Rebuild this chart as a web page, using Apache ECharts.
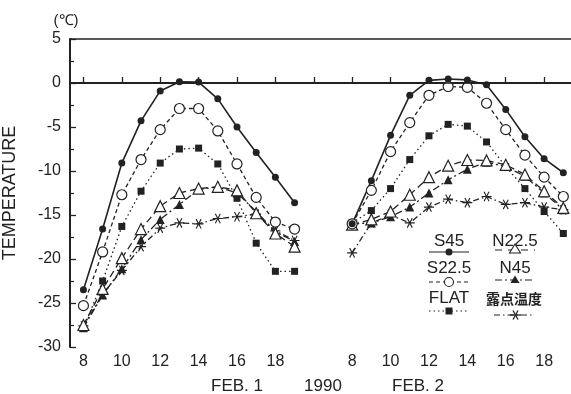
<!DOCTYPE html>
<html>
<head>
<meta charset="utf-8">
<script src="https://cdn.jsdelivr.net/npm/echarts@6.0.0/dist/echarts.min.js"></script>
<style>
  html, body { margin: 0; padding: 0; background: #fff; }
  #chart { width: 571px; height: 394px; }
</style>
</head>
<body>
<div id="chart"></div>
<script>
// hours of each day, day 2 is drawn shifted right by dayOffset
const hours = [8, 9, 10, 11, 12, 13, 14, 15, 16, 17, 18, 19];
const dayOffset = 14;
const hourTicks = [8, 10, 12, 14, 16, 18];
const yTicks = [-30, -25, -20, -15, -10, -5, 0, 5];

const s45Day1 = [-23.5, -16.6, -9.1, -4.3, -0.9, 0.15, 0.1, -1.8, -5.0, -7.9, -10.7, -13.6];
const s45Day2 = [-16.0, -11.1, -5.95, -1.4, 0.3, 0.45, 0.35, -0.2, -3.0, -6.1, -8.6, -10.2];
const s225Day1 = [-25.3, -19.2, -12.7, -8.7, -5.3, -2.9, -2.9, -5.45, -9.2, -13.0, -15.8, -16.6];
const s225Day2 = [-16.0, -12.2, -7.8, -4.5, -1.4, -0.4, -0.5, -2.3, -5.3, -8.2, -10.7, -12.9];
const flatDay1 = [-27.9, -22.5, -16.3, -12.3, -9.1, -7.5, -7.4, -9.2, -13.1, -18.2, -21.4, -21.4];
const flatDay2 = [-15.9, -14.5, -12.0, -8.7, -6.0, -4.7, -4.9, -6.7, -9.5, -12.0, -14.6, -17.1];
const n225Day1 = [-27.5, -23.4, -19.9, -16.6, -14.0, -12.5, -12.0, -11.8, -12.2, -14.8, -17.1, -18.6];
const n225Day2 = [-16.1, -15.5, -14.6, -12.7, -10.7, -9.4, -8.75, -8.8, -9.3, -10.4, -12.3, -14.2];
const n45Day1 = [-27.8, -24.1, -21.1, -17.8, -15.5, -13.8, -12.1, -11.8, -12.5, -14.6, -16.9, -18.0];
const n45Day2 = [-16.0, -15.9, -15.2, -14.1, -12.5, -11.0, -9.8, -9.0, -9.5, -10.6, -12.5, -14.4];
const dewDay1 = [-27.6, -24.0, -21.3, -18.6, -16.5, -15.9, -16.0, -15.4, -15.2, -14.9, -16.8, -17.9];
const dewDay2 = [-19.3, -15.9, -15.0, -15.9, -14.1, -13.2, -13.6, -12.9, -13.8, -13.6, -14.1, -14.4];

const ink = '#222';
const font = '"Liberation Sans", Arial, sans-serif';
const asterisk = 'path://M1,9L19,9L19,11L1,11ZM6.37,1.71L15.37,17.29L13.63,18.29L4.63,2.71ZM15.37,2.71L6.37,18.29L4.63,17.29L13.63,1.71Z';

// join both days into one line, broken in between
function pairs(day1, day2) {
  const out = hours.map((h, i) => [h, day1[i]]);
  out.push([20, '-']);
  hours.forEach((h, i) => out.push([h + dayOffset, day2[i]]));
  return out;
}

const tickValues = hourTicks.concat([20], hourTicks.map(h => h + dayOffset));
const labelValues = hourTicks.concat(hourTicks.map(h => h + dayOffset));

function line(name, day1, day2, symbol, size, filled, dash, width) {
  return {
    name: name,
    type: 'line',
    data: pairs(day1, day2),
    symbol: symbol,
    symbolSize: size,
    showAllSymbol: true,
    itemStyle: filled
      ? { color: ink }
      : { color: '#fff', borderColor: ink, borderWidth: 1.2 },
    lineStyle: { color: ink, width: width || 1.3, type: dash },
    emphasis: { disabled: true },
  };
}

// legend: text with a sample of line + symbol under it
function legendItem(label, x, y, lineY, dash, symbolEl, fontStr) {
  return [
    {
      type: 'text', x: x, y: y,
      style: { text: label, fill: ink, font: fontStr || ('17px ' + font), textAlign: 'center', textVerticalAlign: 'middle' },
    },
    {
      type: 'line',
      shape: { x1: x - 20, y1: lineY, x2: x + 20, y2: lineY },
      style: { stroke: ink, lineWidth: 1.2, lineDash: dash },
    },
    symbolEl,
  ];
}

const legendEls = [].concat(
  legendItem('S45', 449, 241, 252, null,
    { type: 'circle', shape: { cx: 449, cy: 252, r: 3.5 }, style: { fill: ink } }),
  legendItem('N22.5', 515, 241, 250, [7, 6],
    { type: 'polygon', shape: { points: [[515, 244], [520.5, 253], [509.5, 253]] }, style: { fill: '#fff', stroke: ink, lineWidth: 1.1 } }),
  legendItem('S22.5', 449, 268, 282, [4, 3],
    { type: 'circle', shape: { cx: 449, cy: 282, r: 4.5 }, style: { fill: '#fff', stroke: ink, lineWidth: 1.1 } }),
  legendItem('N45', 515, 268, 280, [7, 3, 2, 3],
    { type: 'polygon', shape: { points: [[515, 275.5], [519.5, 283], [510.5, 283]] }, style: { fill: ink } }),
  legendItem('FLAT', 449, 298, 311, [1.5, 3],
    { type: 'rect', shape: { x: 445.5, y: 307.5, width: 7, height: 7 }, style: { fill: ink } }),
  legendItem('露点温度', 514, 299, 315, [6, 3, 1.5, 3],
    { type: 'group', children: [
      { type: 'line', shape: { x1: 510, y1: 315, x2: 521, y2: 315 }, style: { stroke: ink, lineWidth: 1.3 } },
      { type: 'line', shape: { x1: 513, y1: 310.5, x2: 518, y2: 319.5 }, style: { stroke: ink, lineWidth: 1.3 } },
      { type: 'line', shape: { x1: 518, y1: 310.5, x2: 513, y2: 319.5 }, style: { stroke: ink, lineWidth: 1.3 } },
    ] }, 'bold 14px "Noto Sans CJK JP", sans-serif')
);

const chart = echarts.init(document.getElementById('chart'), null, { renderer: 'canvas' });

const s45 = line('S45', s45Day1, s45Day2, 'circle', 7, true, 'solid', 1.6);
s45.markLine = {
  silent: true,
  symbol: 'none',
  label: { show: false },
  lineStyle: { color: ink, width: 1.5, type: 'solid' },
  data: [{ yAxis: 0 }],
};

chart.setOption({
  animation: false,
  backgroundColor: '#fff',
  textStyle: { fontFamily: font },
  grid: { left: 70, right: 0, top: 39, bottom: 47, outerBoundsMode: 'none', containLabel: false },
  xAxis: [
    {
      type: 'value',
      min: 7.3,
      max: 33.4,
      position: 'bottom',
      axisLine: { lineStyle: { color: ink, width: 2 } },
      axisTick: { inside: true, length: 6, customValues: tickValues, lineStyle: { color: ink, width: 1.3 } },
      axisLabel: {
        customValues: labelValues,
        formatter: v => String(v > 20 ? v - dayOffset : v),
        color: ink, fontSize: 16, margin: 7, fontFamily: font,
      },
      splitLine: { show: false },
    },
    {
      type: 'value',
      min: 7.3,
      max: 33.4,
      position: 'top',
      axisLine: { show: true, onZero: false, lineStyle: { color: ink, width: 1.6 } },
      axisTick: { show: false },
      axisLabel: { show: false },
      splitLine: { show: false },
    },
  ],
  yAxis: {
    type: 'value',
    min: yTicks[0],
    max: yTicks[yTicks.length - 1],
    interval: 5,
    name: 'TEMPERATURE',
    nameLocation: 'middle',
    nameRotate: 90,
    nameGap: 51,
    nameTextStyle: { color: ink, fontSize: 18, fontFamily: font },
    axisLine: { show: true, lineStyle: { color: ink, width: 2 } },
    axisTick: { inside: true, length: 6, lineStyle: { color: ink, width: 1.3 } },
    minorTick: { show: true, splitNumber: 2, length: 4, lineStyle: { color: ink, width: 1.2 } },
    axisLabel: { color: ink, fontSize: 16, margin: 9, fontFamily: font },
    splitLine: { show: false },
  },
  graphic: [
    { type: 'text', x: 66, y: 21, style: { text: '(℃)', fill: ink, font: '15px ' + font, textAlign: 'center', textVerticalAlign: 'middle' } },
    { type: 'text', x: 237, y: 386, style: { text: 'FEB. 1', fill: ink, font: '17px ' + font, textAlign: 'center', textVerticalAlign: 'middle' } },
    { type: 'text', x: 323, y: 386, style: { text: '1990', fill: ink, font: '17px ' + font, textAlign: 'center', textVerticalAlign: 'middle' } },
    { type: 'text', x: 418, y: 386, style: { text: 'FEB. 2', fill: ink, font: '17px ' + font, textAlign: 'center', textVerticalAlign: 'middle' } },
  ].concat(legendEls),
  series: [
    line('露点温度', dewDay1, dewDay2, asterisk, 10, true, [6, 3, 1.5, 3]),
    line('FLAT', flatDay1, flatDay2, 'rect', 7, true, [1.5, 3]),
    line('N45', n45Day1, n45Day2, 'triangle', 9, true, [7, 3, 2, 3]),
    line('N22.5', n225Day1, n225Day2, 'triangle', 11, false, [7, 4]),
    line('S22.5', s225Day1, s225Day2, 'circle', 10, false, [4, 3]),
    s45,
  ],
});
</script>
</body>
</html>
